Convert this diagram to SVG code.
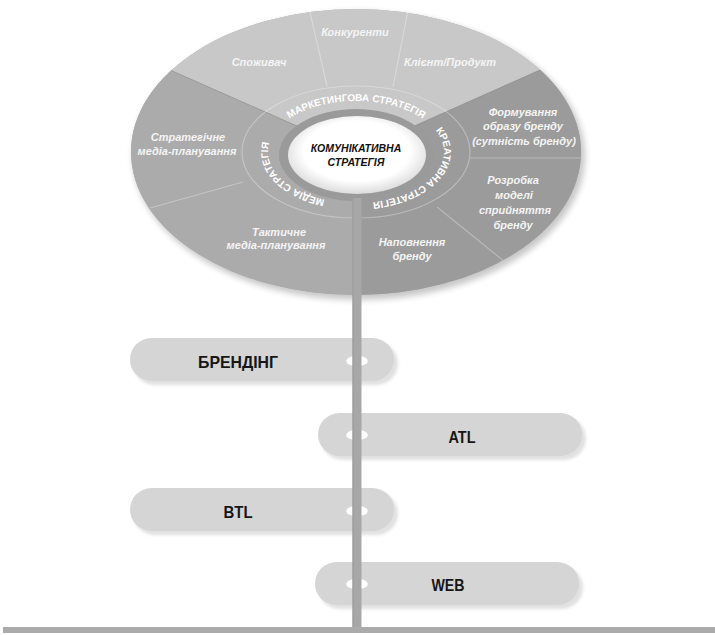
<svg xmlns="http://www.w3.org/2000/svg" width="715" height="635" viewBox="0 0 715 635">
  <defs>
    <clipPath id="wheelClip"><ellipse cx="356" cy="152" rx="225" ry="143"/></clipPath>
    <filter id="soft" x="-10%" y="-10%" width="120%" height="130%">
      <feGaussianBlur stdDeviation="3"/>
    </filter>
    <filter id="pillBlur" x="-5%" y="-30%" width="110%" height="160%">
      <feGaussianBlur stdDeviation="1.5"/>
    </filter>
    <radialGradient id="coreFill" cx="50%" cy="45%" r="55%">
      <stop offset="0.7" stop-color="#ffffff"/>
      <stop offset="1" stop-color="#dcdcdc"/>
    </radialGradient>
    <!-- clockwise baseline for the ring captions, starting at the bottom -->
    <path id="ringPath" d="M356,203 A88,51 0 0 1 268,152 A88,51 0 0 1 356,101 A88,51 0 0 1 444,152 A88,51 0 0 1 356,203"/>
  </defs>
  <style>
    .seg-label { font-family: "Liberation Sans", Arial, sans-serif; font-size: 11px; font-style: italic; font-weight: bold; fill: #f4f4f4; text-anchor: middle; }
    .ring-label { font-family: "Liberation Sans", Arial, sans-serif; font-size: 10px; font-weight: bold; fill: #ffffff; text-anchor: middle; }
    .core-label { font-family: "Liberation Sans", Arial, sans-serif; font-size: 10.5px; font-style: italic; font-weight: bold; fill: #111111; text-anchor: middle; }
    .divider { stroke: #ffffff; stroke-opacity: 0.3; stroke-width: 1.2; fill: none; }
    .edge { stroke: #8c8c8c; stroke-opacity: 0.6; stroke-width: 1; fill: none; }
    .pill { fill: #d5d5d5; }
    .pill-shadow { fill: #bdbdbd; opacity: 0.45; }
    .pill-text { font-family: "Liberation Sans", Arial, sans-serif; font-size: 17px; font-weight: bold; fill: #161616; text-anchor: middle; }
    .hole { fill: #ffffff; stroke: #ffffff; stroke-width: 1.5; }
    .stem { fill: #a7a7a7; }
  </style>

  <!-- halo under the wheel -->
  <ellipse cx="359" cy="156" rx="226" ry="144" fill="#000000" opacity="0.22" filter="url(#soft)"/>

  <g id="strategy-wheel" clip-path="url(#wheelClip)">
    <rect x="100" y="0" width="520" height="300" fill="#ababab"/>
    <!-- marketing sector (top) -->
    <polygon id="marketing-sector" points="356,152 -16,-12 -16,-40 730,-40 724,-12" fill="#c8c8c8"/>
    <!-- media sector (left) -->
    <polygon id="media-sector" points="356,152 -16,-12 -16,400 356,400" fill="#ababab"/>
    <!-- creative sector (right) -->
    <polygon id="creative-sector" points="356,152 724,-12 730,400 356,400" fill="#9b9b9b"/>
    <!-- sector edges -->
    <line class="edge" x1="356" y1="152" x2="-16" y2="-12"/>
    <line class="edge" x1="356" y1="152" x2="724" y2="-12"/>
    <!-- inner ring of strategy names -->
    <ellipse cx="356" cy="152" rx="114" ry="66" fill="#ffffff" fill-opacity="0.05" class="divider"/>
    <!-- item dividers -->
    <line class="divider" x1="309" y1="8" x2="327" y2="86"/>
    <line class="divider" x1="408" y1="10" x2="393" y2="87"/>
    <line class="divider" x1="150" y1="208" x2="243" y2="182"/>
    <line class="divider" x1="470" y1="158" x2="585" y2="158"/>
    <line class="divider" x1="437" y1="207" x2="510" y2="266"/>
  </g>

  <!-- communication strategy core -->
  <g id="communication-strategy">
    <ellipse cx="356" cy="155" rx="77" ry="46" fill="#9a9a9a"/>
    <ellipse cx="357" cy="155" rx="69" ry="39" fill="url(#coreFill)"/>
    <text class="core-label" x="356" y="152">КОМУНІКАТИВНА</text>
    <text class="core-label" x="356" y="166">СТРАТЕГІЯ</text>
  </g>

  <g id="marketing-strategy">
    <text class="ring-label"><textPath href="#ringPath" startOffset="222">МАРКЕТИНГОВА СТРАТЕГІЯ</textPath></text>
    <text class="seg-label" x="355" y="36">Конкуренти</text>
    <text class="seg-label" x="259" y="66">Споживач</text>
    <text class="seg-label" x="450" y="66">Клієнт/Продукт</text>
  </g>

  <g id="media-strategy">
    <text class="ring-label"><textPath href="#ringPath" startOffset="76">МЕДІА СТРАТЕГІЯ</textPath></text>
    <text class="seg-label" x="188" y="141">Стратегічне</text>
    <text class="seg-label" x="187" y="155">медіа-планування</text>
    <text class="seg-label" x="279" y="236">Тактичне</text>
    <text class="seg-label" x="276" y="249">медіа-планування</text>
  </g>

  <g id="creative-strategy">
    <text class="ring-label"><textPath href="#ringPath" startOffset="368">КРЕАТИВНА СТРАТЕГІЯ</textPath></text>
    <text class="seg-label" x="523" y="116">Формування</text>
    <text class="seg-label" x="523" y="130">образу бренду</text>
    <text class="seg-label" x="524" y="145">(сутність бренду)</text>
    <text class="seg-label" x="513" y="184">Розробка</text>
    <text class="seg-label" x="514" y="199">моделі</text>
    <text class="seg-label" x="515" y="214">сприйняття</text>
    <text class="seg-label" x="513" y="229">бренду</text>
    <text class="seg-label" x="412" y="246">Наповнення</text>
    <text class="seg-label" x="412" y="260">бренду</text>
  </g>

  <!-- channels -->
  <g id="branding">
    <rect class="pill-shadow" x="133" y="342" width="265" height="43" rx="21.5" filter="url(#pillBlur)"/>
    <rect class="pill" x="130" y="338" width="264" height="43" rx="21.5"/>
    <ellipse class="hole" cx="357" cy="361" rx="10" ry="4.5"/>
    <text class="pill-text" x="238" y="368" textLength="80" lengthAdjust="spacingAndGlyphs">БРЕНДІНГ</text>
  </g>

  <g id="atl">
    <rect class="pill-shadow" x="321" y="417" width="265" height="43" rx="21.5" filter="url(#pillBlur)"/>
    <rect class="pill" x="318" y="413" width="264" height="43" rx="21.5"/>
    <ellipse class="hole" cx="357" cy="435" rx="10" ry="4.5"/>
    <text class="pill-text" x="462" y="443" textLength="27" lengthAdjust="spacingAndGlyphs">ATL</text>
  </g>

  <g id="btl">
    <rect class="pill-shadow" x="133" y="492" width="265" height="43" rx="21.5" filter="url(#pillBlur)"/>
    <rect class="pill" x="130" y="488" width="264" height="43" rx="21.5"/>
    <ellipse class="hole" cx="357" cy="511" rx="10" ry="4.5"/>
    <text class="pill-text" x="238" y="518" textLength="29" lengthAdjust="spacingAndGlyphs">BTL</text>
  </g>

  <g id="web">
    <rect class="pill-shadow" x="318" y="566" width="265" height="43" rx="21.5" filter="url(#pillBlur)"/>
    <rect class="pill" x="315" y="562" width="264" height="43" rx="21.5"/>
    <ellipse class="hole" cx="357" cy="584" rx="10" ry="4.5"/>
    <text class="pill-text" x="448" y="591" textLength="33" lengthAdjust="spacingAndGlyphs">WEB</text>
  </g>

  <!-- stem and base line -->
  <g id="connectors">
    <rect class="stem" x="352.5" y="198" width="9" height="432"/>
    <line x1="353" y1="198" x2="353" y2="628" stroke="#999999" stroke-width="1"/>
    <rect x="3" y="627" width="712" height="6" fill="#ababab"/>
  </g>
</svg>
